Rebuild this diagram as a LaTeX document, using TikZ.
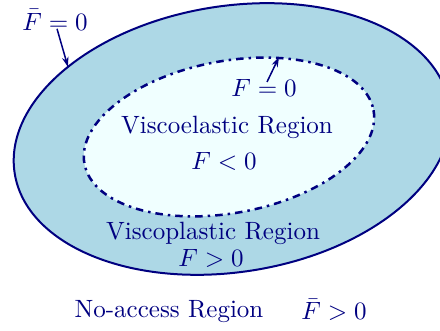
\documentclass[tikz,border=0pt]{standalone}
\usetikzlibrary{arrows.meta}
\definecolor{navyc}{HTML}{000080}
\definecolor{lblue}{HTML}{ADD8E6}
\definecolor{azurec}{HTML}{F0FFFF}
\begin{document}
\begin{tikzpicture}[x=0.4pt,y=-0.4pt,
  lbl/.style={text=navyc,inner sep=0pt,font=\fontsize{10}{12}\selectfont},
  bound/.style={draw=navyc,line width=0.8pt},
  arr/.style={draw=navyc,line width=0.6pt,-{Stealth[length=4pt,width=2.6pt]}}]
\useasboundingbox (0,0) rectangle (440,331);
\clip (0,0) rectangle (440,331);
\coordinate (co) at (232,139);
\coordinate (ci) at (229,137);
\path[bound,fill=lblue,rotate around={9:(co)}] (co) ellipse [x radius=220,y radius=133];
\path[bound,line width=1pt,fill=azurec,dashdotted,rotate around={10.5:(ci)}] (ci) ellipse [x radius=147,y radius=76];
\node[lbl] (fbar) at (55,20) {$\bar{F} = 0$};
\node[lbl] (finner) at (264,88) {$F = 0$};
\node[lbl] (ve) at (227,127) {Viscoelastic Region};
\node[lbl] (flt) at (224,161) {$F < 0$};
\node[lbl] (vp) at (213,233) {Viscoplastic Region};
\node[lbl] (fgt) at (211,258) {$F > 0$};
\node[lbl] (na) at (169,312) {No-access Region};
\node[lbl] (fbgt) at (334,310) {$\bar{F} > 0$};
\coordinate (t1) at (68,67);
\coordinate (s2) at (267,82);
\coordinate (t2) at (279,57);
\draw[arr] (fbar.south) ++(2,-2) -- (t1);
\draw[arr] (s2) -- (t2);
\end{tikzpicture}
\end{document}
